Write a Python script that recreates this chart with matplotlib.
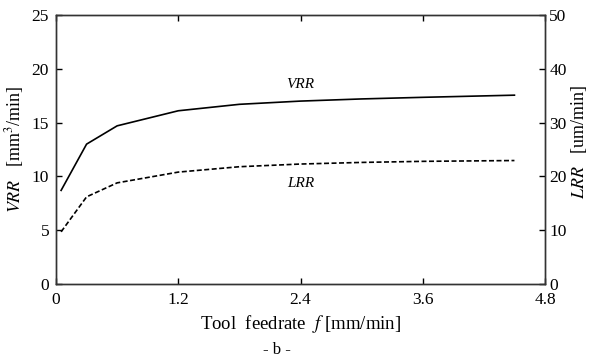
import matplotlib
matplotlib.use("Agg")
import matplotlib.pyplot as plt

# ----------------------------
# Data
# ----------------------------
feedrate = [0.05, 0.3, 0.6, 1.2, 1.8, 2.4, 3.0, 3.6, 4.5]
vrr = [8.7, 13.0, 14.7, 16.1, 16.7, 17.0, 17.2, 17.35, 17.55]   # mm^3/min, left axis
lrr = [9.7, 16.2, 18.8, 20.8, 21.8, 22.3, 22.6, 22.8, 22.95]    # um/min, right axis

x_ticks = [0, 1.2, 2.4, 3.6, 4.8]
x_tick_labels = ["0", "1.2", "2.4", "3.6", "4.8"]
left_ticks = [0, 5, 10, 15, 20, 25]
right_ticks = [0, 10, 20, 30, 40, 50]

plt.rcParams["font.family"] = ["Liberation Serif", "DejaVu Serif"]
plt.rcParams["mathtext.fontset"] = "stix"

FS = 12.5

fig = plt.figure(figsize=(5.89, 3.60), dpi=100)
ax = fig.add_axes([0.0951, 0.2111, 0.8302, 0.7472])
ax2 = ax.twinx()

ax.plot(feedrate, vrr, color="black", linewidth=1.2)
ax2.plot(feedrate, lrr, color="black", linewidth=1.2, linestyle=(0, (3, 1.5)))

ax.set_xlim(0, 4.8)
ax.set_ylim(0, 25)
ax2.set_ylim(0, 50)

ax.set_xticks(x_ticks)
ax.set_xticklabels(x_tick_labels)
ax.set_yticks(left_ticks)
ax2.set_yticks(right_ticks)

ax.tick_params(axis="x", direction="in", top=True, length=4, width=1,
               labelsize=FS, pad=6)
ax.tick_params(axis="y", direction="in", length=4, width=1, labelsize=FS, pad=5)
ax2.tick_params(axis="y", direction="in", length=4, width=1, labelsize=FS, pad=3)

for a in (ax, ax2):
    for sp in a.spines.values():
        sp.set_linewidth(1.0)
        sp.set_color("#333333")

ax.set_ylabel(r"$\it{VRR}$   [mm$^3$/min]", fontsize=FS + 0.5)
ax.yaxis.set_label_coords(-0.062, 0.5)
ax2.set_ylabel(r"$\it{LRR}$   [um/min]", fontsize=FS + 0.5)
ax2.yaxis.set_label_coords(1.05, 0.53)
ax.set_xlabel("Tool  feedrate  $f$ [mm/min]", fontsize=FS + 1, labelpad=3)

# curve annotations
ax.text(2.4, 18.5, "VRR", style="italic", fontsize=FS - 1.5, ha="center", va="center")
ax2.text(2.4, 18.6, "LRR", style="italic", fontsize=FS - 1.5, ha="center", va="center")

fig.text(0.47, 0.005, "- b -", fontsize=FS - 0.5, ha="center", va="bottom")

fig.savefig("out.png", dpi=100)
